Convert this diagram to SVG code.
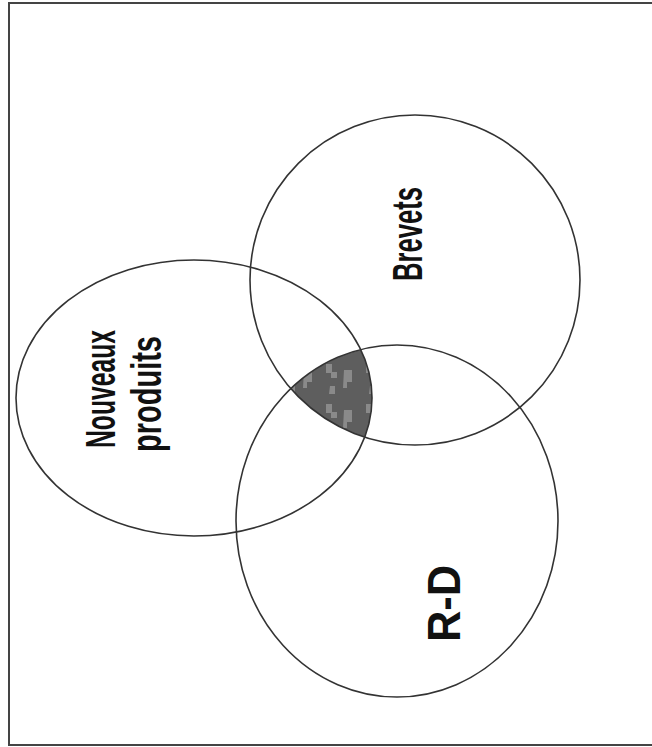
<svg xmlns="http://www.w3.org/2000/svg" width="652" height="747" viewBox="0 0 652 747">
<style>
.ring{fill:none;stroke:#333;stroke-width:1.6}
.lbl{font-family:"Liberation Sans",Arial,sans-serif;font-size:42px;font-weight:bold;fill:#111}
.frame{fill:none;stroke:#444;stroke-width:2}
</style>
<defs>
<clipPath id="cB"><circle cx="415" cy="280" r="165"/></clipPath>
<clipPath id="cR"><ellipse cx="397" cy="521" rx="161" ry="176"/></clipPath>
<pattern id="mottle" width="40" height="40" patternUnits="userSpaceOnUse">
<rect width="40" height="40" fill="#5e5e5e"/>
<path d="M6 4h6v8h5v6h-6v-5H6z M24 10h8v12h-5v6h-4z M10 26h5v8h-6z" fill="#8a8a8a"/>
</pattern>
</defs>
<rect width="652" height="747" fill="#fff"/>
<path class="frame" d="M652 3H9V745H652"/>
<g id="intersection">
<g clip-path="url(#cB)"><g clip-path="url(#cR)">
<ellipse cx="194" cy="398" rx="178" ry="138" fill="url(#mottle)"/>
</g></g>
</g>
<g id="nouveaux">
<ellipse class="ring" cx="194" cy="398" rx="178" ry="138"/>
<text class="lbl" transform="translate(115,448) rotate(-90)" textLength="118" lengthAdjust="spacingAndGlyphs">Nouveaux</text>
<text class="lbl" transform="translate(161,452) rotate(-90)" textLength="116" lengthAdjust="spacingAndGlyphs">produits</text>
</g>
<g id="brevets">
<circle class="ring" cx="415" cy="280" r="165"/>
<text class="lbl" transform="translate(422,281) rotate(-90)" textLength="94" lengthAdjust="spacingAndGlyphs">Brevets</text>
</g>
<g id="rd">
<ellipse class="ring" cx="397" cy="521" rx="161" ry="176"/>
<text class="lbl" style="font-size:46px" transform="translate(460,642) rotate(-90)" textLength="77" lengthAdjust="spacingAndGlyphs">R-D</text>
</g>
<g id="connectors"/>
</svg>
